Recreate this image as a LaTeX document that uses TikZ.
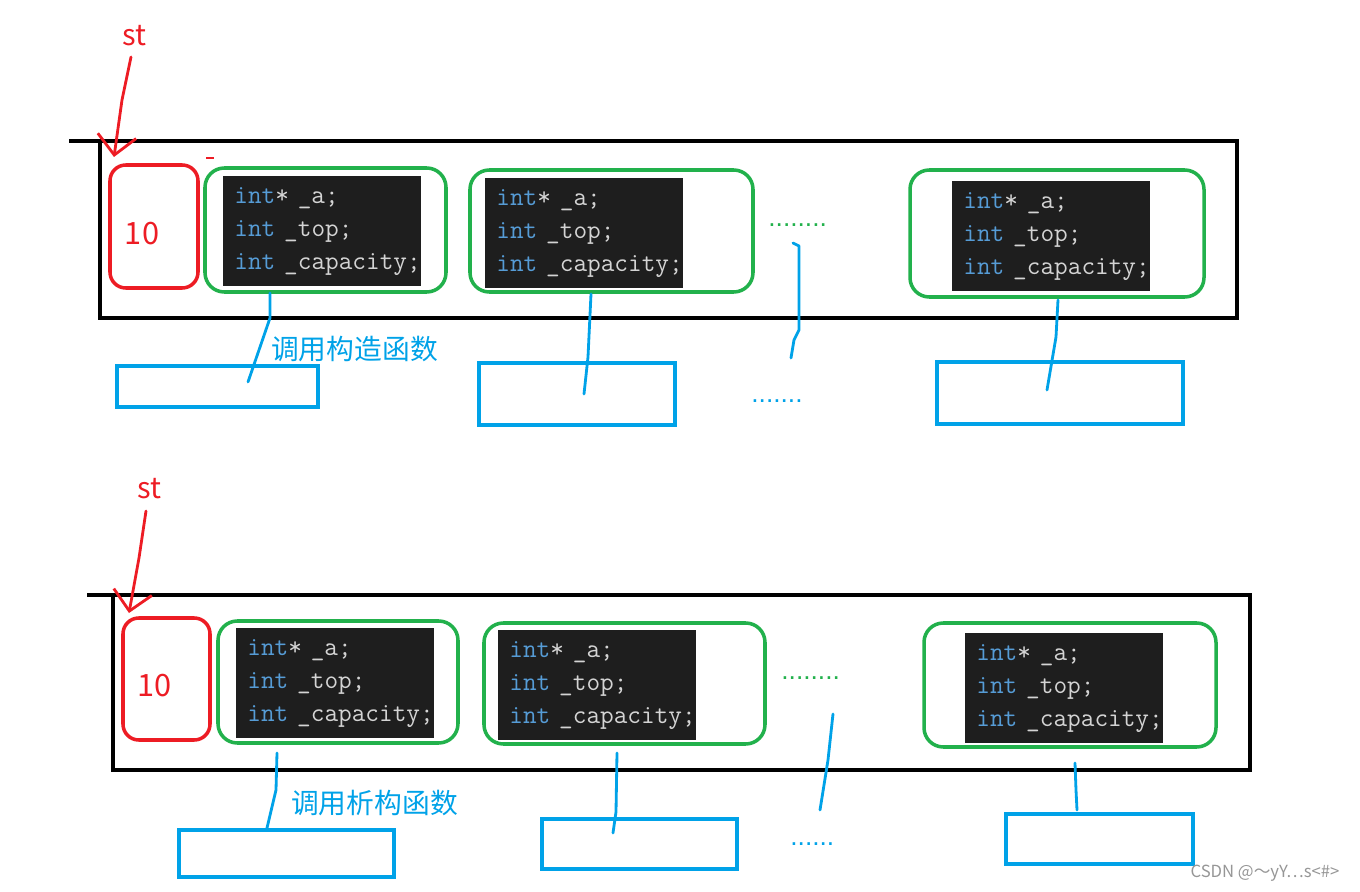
\documentclass[tikz,border=0pt]{standalone}
\usepackage{fontspec}
\usetikzlibrary{fit,arrows.meta}
\newfontfamily\cjk{Noto Sans CJK SC}
\newfontfamily\dotfont{Liberation Sans}
\definecolor{paintred}{RGB}{237,28,36}
\definecolor{paintgreen}{RGB}{34,177,76}
\definecolor{paintblue}{RGB}{0,162,232}
\definecolor{codebg}{RGB}{30,30,30}
\definecolor{codekw}{RGB}{86,156,214}
\definecolor{codetxt}{RGB}{212,212,212}
\definecolor{markgray}{RGB}{150,150,150}
\newcommand{\membercode}{\mbox{\textcolor{codekw}{int}* \_a;}\\\mbox{\textcolor{codekw}{int} \_top;}\\\mbox{\textcolor{codekw}{int} \_capacity;}}
\tikzset{
  frame/.style={draw=black, line width=2.3pt},
  headbox/.style={draw=paintred, line width=2pt, rounded corners=9pt, inner sep=0pt},
  objbox/.style={draw=paintgreen, line width=2pt, rounded corners=11pt, inner sep=0pt},
  codebox/.style={fill=codebg, text=codetxt, anchor=north west, align=left, inner xsep=0.22cm, inner ysep=0pt,
    text width=3.52cm, minimum height=2.2cm, font=\ttfamily\fontsize{15.1}{18.7}\selectfont},
  callbox/.style={draw=paintblue, line width=2.2pt, inner sep=0pt},
  wire/.style={draw=paintblue, line width=1.6pt, line cap=round, line join=round},
  stmark/.style={draw=paintred, line width=1.6pt, line cap=round, -{Straight Barb[length=11pt,width=22pt]}},
  redtext/.style={text=paintred, font=\cjk\fontsize{16.5}{18}\selectfont, inner sep=0pt},
  numtext/.style={text=paintred, font=\cjk\fontsize{17.5}{19}\selectfont, inner sep=0pt},
  calltext/.style={text=paintblue, font=\cjk\fontsize{15.8}{18}\selectfont, inner sep=0pt},
  dotsgreen/.style={text=paintgreen, font=\dotfont\fontsize{15}{16}\selectfont, inner sep=0pt, anchor=base west},
  dotsblue/.style={text=paintblue, font=\dotfont\fontsize{15}{16}\selectfont, inner sep=0pt, anchor=base west}
}
\begin{document}
\begin{tikzpicture}[x=0.02cm, y=-0.02cm]
  \useasboundingbox (0,0) rectangle (1360,892);

  % upper stack: constructor calls
  \draw[frame] (69,141) -- (1237,141) -- (1237,318) -- (100,318) -- (100,141);
  \node[redtext] (st1) at (134.5,36) {st};
  \coordinate (a1) at (114,157);
  \draw[stmark] (131,57) -- (122,100) -- (a1);
  \draw[paintred, line width=1.2pt] (206,158) -- (214,158);

  \node[headbox, fit={(110,165) (198,288)}] (h1) {};
  \node[numtext] (n1) at (142,234) {10};

  \node[objbox, fit={(205,168) (446,292)}] (o1) {};
  \node[codebox] (c1) at (223,176) {\membercode};
  \node[objbox, fit={(470,170) (753,292)}] (o2) {};
  \node[codebox] (c2) at (485,178) {\membercode};
  \node[dotsgreen] (g1) at (768,226) {........};
  \node[objbox, fit={(910,170) (1204,297)}] (o3) {};
  \node[codebox] (c3) at (952,181) {\membercode};

  \node[callbox, fit={(117,366) (318,407)}] (b1) {};
  \node[callbox, fit={(479,363) (675,425)}] (b2) {};
  \node[dotsblue] (d1) at (751,402) {.......};
  \node[callbox, fit={(937,362) (1183,424)}] (b3) {};
  \node[calltext] (l1) at (354.5,349.5) {调用构造函数};

  \coordinate (t1) at (270,293);
  \coordinate (e1) at (248,382);
  \draw[wire] (t1) -- (270,318) -- (e1);
  \coordinate (t2) at (591,294);
  \coordinate (e2) at (584,394);
  \draw[wire] (t2) -- (588,357) -- (e2);
  \coordinate (t3) at (793,243);
  \coordinate (e3) at (791,358);
  \draw[wire] (t3) -- (799,246) -- (799,330) -- (794,340) -- (e3);
  \coordinate (t4) at (1058,300);
  \coordinate (e4) at (1047,390);
  \draw[wire] (t4) -- (1056,337) -- (e4);

  % lower stack: destructor calls
  \draw[frame] (87,595) -- (1250,595) -- (1250,770) -- (113,770) -- (113,595);
  \node[redtext] (st2) at (149.5,489) {st};
  \coordinate (a2) at (129,613);
  \draw[stmark] (146,511) -- (139,558) -- (a2);

  \node[headbox, fit={(123,618) (210,740)}] (h2) {};
  \node[numtext] (n2) at (154.5,685.5) {10};

  \node[objbox, fit={(218,621) (458,743)}] (o4) {};
  \node[codebox] (c4) at (236,628) {\membercode};
  \node[objbox, fit={(484,623) (765,744)}] (o5) {};
  \node[codebox] (c5) at (498,630) {\membercode};
  \node[dotsgreen] (g2) at (781,679) {........};
  \node[objbox, fit={(924,623) (1216,747)}] (o6) {};
  \node[codebox] (c6) at (965,633) {\membercode};

  \node[callbox, fit={(179,830) (394,877)}] (b4) {};
  \node[callbox, fit={(542,819) (737,869)}] (b5) {};
  \node[dotsblue] (d2) at (790,845) {......};
  \node[callbox, fit={(1006,814) (1193,864)}] (b6) {};
  \node[calltext] (l2) at (374.5,803.5) {调用析构函数};

  \coordinate (t5) at (277,753);
  \coordinate (e5) at (267,828);
  \draw[wire] (t5) -- (276,790) -- (e5);
  \coordinate (t6) at (617,753);
  \coordinate (e6) at (613,833);
  \draw[wire] (t6) -- (616,812) -- (e6);
  \coordinate (t7) at (833,714);
  \coordinate (e7) at (820,810);
  \draw[wire] (t7) -- (828,760) -- (e7);
  \coordinate (t8) at (1075,763);
  \coordinate (e8) at (1077,810);
  \draw[wire] (t8) -- (1076,790) -- (e8);

  \node[text=markgray, font=\cjk\fontsize{9.5}{11}\selectfont, inner sep=0pt] (wm) at (1265,873) {CSDN @～yY⋯s<\#>};
\end{tikzpicture}
\end{document}
